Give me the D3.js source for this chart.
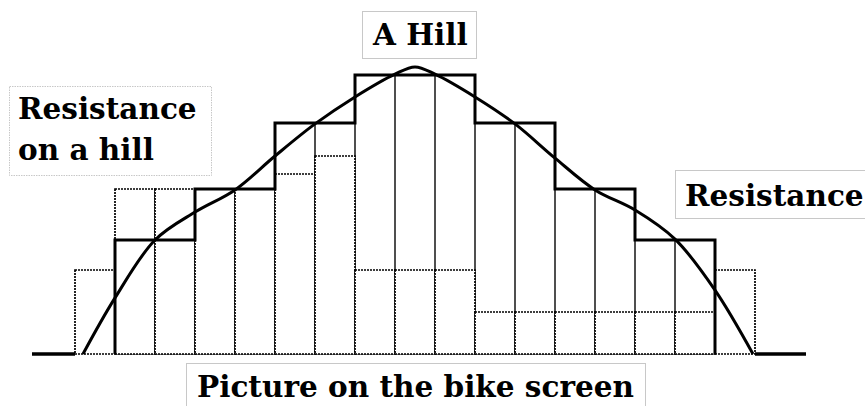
<!DOCTYPE html>
<html>
<head>
<meta charset="utf-8">
<script src="https://cdn.jsdelivr.net/npm/d3@7"></script>
<style>
  body { margin: 0; background: #fff; }
  text { font-family: "DejaVu Serif", serif; font-weight: bold; fill: #000; }
</style>
</head>
<body>
<div id="chart"></div>
<script>
const width = 865;
const height = 406;

// Resistance steps per column (solid, thick outline)
const steps = [0, 38, 38, 55, 55, 77, 77, 93, 93, 93, 77, 77, 55, 55, 38, 38, 0];
// Picture on the bike screen (dotted bars)
const screen = [28, 55, 55, 55, 55, 60, 66, 28, 28, 28, 14, 14, 14, 14, 14, 14, 28];
// The hill profile (column position, height)
const hillX = [0.2, 1, 2, 3, 4, 5, 6, 7, 8, 8.5, 9, 10, 11, 12, 13, 14, 15, 16, 16.95];
const hillY = [0, 18.7, 38, 47.3, 54.7, 66, 76.7, 85.7, 93.3, 95.7, 93.3, 85.7, 76.7, 65.3, 54.7, 48, 38.3, 21.3, 0];

const svg = d3.select("#chart").append("svg")
  .attr("width", width)
  .attr("height", height);

const x = d3.scaleLinear().domain([0, steps.length]).range([75, 755]);
const y = d3.scaleLinear().domain([0, 100]).range([354, 54]);
const colW = x(1) - x(0);

// thin solid columns under the steps
svg.selectAll("rect.col")
  .data(steps.map((v, i) => ({v, i})).filter(d => d.v > 0))
  .enter().append("rect")
  .attr("class", "col")
  .attr("x", d => x(d.i))
  .attr("y", d => y(d.v))
  .attr("width", colW)
  .attr("height", d => y(0) - y(d.v))
  .attr("fill", "none")
  .attr("stroke", "#444")
  .attr("stroke-width", 1.5);

// dotted screen bars
svg.selectAll("rect.scr")
  .data(screen)
  .enter().append("rect")
  .attr("class", "scr")
  .attr("x", (d, i) => x(i))
  .attr("y", d => y(d))
  .attr("width", colW)
  .attr("height", d => y(0) - y(d))
  .attr("fill", "#fff")
  .attr("stroke", "#000")
  .attr("stroke-width", 1.7)
  .attr("stroke-dasharray", "2,1");

// ground
svg.selectAll("line.ground")
  .data([[32, x(0)], [x(steps.length), 806]])
  .enter().append("line")
  .attr("class", "ground")
  .attr("x1", d => d[0]).attr("x2", d => d[1])
  .attr("y1", y(0)).attr("y2", y(0))
  .attr("stroke", "#000")
  .attr("stroke-width", 3.5);

// thick step outline
const first = steps.findIndex(v => v > 0);
const last = steps.length - 1 - [...steps].reverse().findIndex(v => v > 0);
const stepPts = [[first, 0]];
for (let i = first; i <= last; i++) stepPts.push([i, steps[i]]);
stepPts.push([last + 1, steps[last]], [last + 1, 0]);

svg.append("path")
  .attr("d", d3.line().x(d => x(d[0])).y(d => y(d[1])).curve(d3.curveStepAfter)(stepPts))
  .attr("fill", "none")
  .attr("stroke", "#000")
  .attr("stroke-width", 3)
  .attr("stroke-linejoin", "miter");

// the hill
svg.append("path")
  .attr("d", d3.line().x(d => x(d[0])).y(d => y(d[1])).curve(d3.curveCatmullRom.alpha(0.5))(hillX.map((v, i) => [v, hillY[i]])))
  .attr("fill", "none")
  .attr("stroke", "#000")
  .attr("stroke-width", 3);

// label boxes
const labels = [
  {lines: ["A Hill"], box: [362, 11, 114, 47], tx: 373, ty: [45], dash: null},
  {lines: ["Resistance", "on a hill"], box: [9, 86, 202, 89], tx: 18, ty: [119, 160], dash: "1.5,1"},
  {lines: ["Resistance"], box: [675, 170, 200, 48], tx: 685, ty: [206], dash: null},
  {lines: ["Picture on the bike screen"], box: [186, 363, 459, 60], tx: 197, ty: [397], dash: null}
];

const lab = svg.selectAll("g.label").data(labels).enter().append("g").attr("class", "label");
lab.append("rect")
  .attr("x", d => d.box[0] + 0.5).attr("y", d => d.box[1] + 0.5)
  .attr("width", d => d.box[2]).attr("height", d => d.box[3])
  .attr("fill", "#fff")
  .attr("stroke", "#c8c8c8")
  .attr("stroke-width", 1)
  .attr("stroke-dasharray", d => d.dash);
lab.each(function(d) {
  d3.select(this).selectAll("text").data(d.lines).enter().append("text")
    .attr("x", d.tx)
    .attr("y", (t, i) => d.ty[i])
    .attr("font-size", 29.5)
    .text(t => t);
});
</script>
</body>
</html>
